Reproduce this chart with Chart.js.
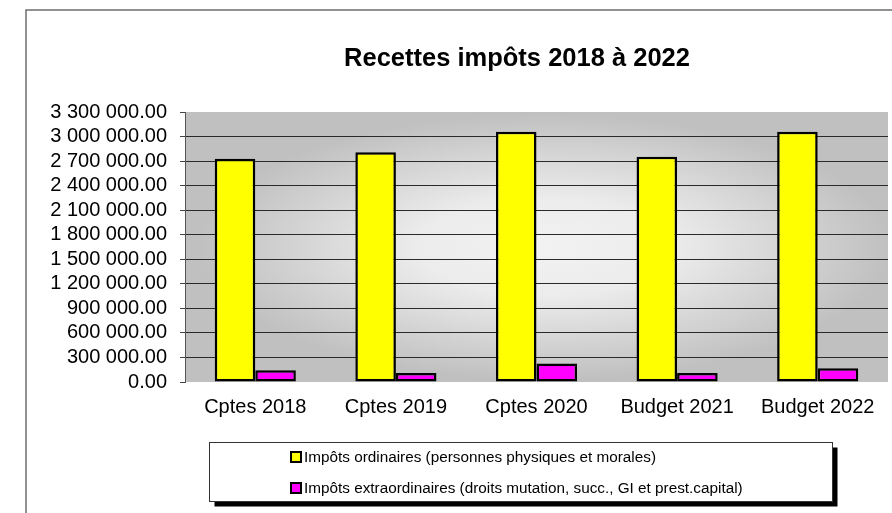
<!DOCTYPE html>
<html>
<head>
<meta charset="utf-8">
<title>Recettes impôts 2018 à 2022</title>
<script src="https://cdn.jsdelivr.net/npm/chart.js@4.4.1/dist/chart.umd.min.js"></script>
<style>
  html, body { margin: 0; padding: 0; background: #fff; }
  canvas { display: block; }
</style>
</head>
<body>
<canvas id="impots-chart" width="892" height="513"></canvas>
<script>
var chartTitle = "Recettes impôts 2018 à 2022";
var categories = ["Cptes 2018", "Cptes 2019", "Cptes 2020", "Budget 2021", "Budget 2022"];
var impotsOrdinaires = [2729000, 2808000, 3060000, 2754000, 3060000];
var impotsExtra = [143000, 110000, 225000, 110000, 168000];
var seriesNames = [
  "Impôts ordinaires (personnes physiques et morales)",
  "Impôts extraordinaires (droits mutation, succ., GI et prest.capital)"
];
var yMax = 3300000;
var yStep = 300000;

// 3300000 -> "3 300 000.00"
function formatValue(v) {
  var parts = v.toFixed(2).split(".");
  return parts[0].replace(/\B(?=(\d{3})+(?!\d))/g, " ") + "." + parts[1];
}

// cadre, fond du graphique, titre et légende
var decorPlugin = {
  id: "decor",
  beforeDraw: function (chart) {
    var ctx = chart.ctx;
    var a = chart.chartArea;
    ctx.save();
    // cadre extérieur
    ctx.strokeStyle = "#6e6e6e";
    ctx.lineWidth = 1.5;
    ctx.beginPath();
    ctx.moveTo(26, 513);
    ctx.lineTo(26, 10);
    ctx.lineTo(892, 10);
    ctx.stroke();

    // fond gris dégradé
    var cx = (a.left + a.right) / 2 + 8;
    var cy = (a.top + a.bottom) / 2;
    var rx = (a.right - a.left) / 2;
    var ry = (a.bottom - a.top) / 2;
    ctx.beginPath();
    ctx.rect(a.left, a.top, a.right - a.left, a.bottom - a.top);
    ctx.clip();
    ctx.translate(cx, cy);
    ctx.scale(rx / ry, 1);
    var g = ctx.createRadialGradient(0, 0, 0, 0, 0, ry * 1.2);
    g.addColorStop(0, "#f2f2f2");
    g.addColorStop(0.3, "#ececec");
    g.addColorStop(0.82, "#c0c0c0");
    g.addColorStop(1, "#c0c0c0");
    ctx.fillStyle = g;
    ctx.fillRect(-ry * 2, -ry * 2, ry * 4, ry * 4);
    ctx.restore();
  },
  afterDraw: function (chart) {
    var ctx = chart.ctx;
    ctx.save();
    // titre
    ctx.fillStyle = "#000";
    ctx.font = "bold 25.5px Arial, 'Liberation Sans', sans-serif";
    ctx.textAlign = "center";
    ctx.textBaseline = "middle";
    ctx.fillText(chartTitle, 517, 59);

    // légende
    var bx = 209.5, by = 442.5, bw = 623, bh = 59;
    ctx.fillStyle = "#000";
    ctx.fillRect(bx + 5, by + 5, bw, bh);
    ctx.fillStyle = "#fff";
    ctx.fillRect(bx, by, bw, bh);
    ctx.strokeStyle = "#333";
    ctx.lineWidth = 1;
    ctx.strokeRect(bx, by, bw, bh);

    ctx.font = "15.3px Arial, 'Liberation Sans', sans-serif";
    ctx.textAlign = "left";
    chart.data.datasets.forEach(function (ds, i) {
      var y = 457 + i * 31;
      ctx.fillStyle = ds.backgroundColor;
      ctx.fillRect(291, y - 5, 10, 10);
      ctx.strokeStyle = "#000";
      ctx.lineWidth = 2;
      ctx.strokeRect(291, y - 5, 10, 10);
      ctx.fillStyle = "#000";
      ctx.fillText(ds.label, 304, y + 1);
    });
    ctx.restore();
  }
};

var chart = new Chart(document.getElementById("impots-chart").getContext("2d"), {
  type: "bar",
  data: {
    labels: categories,
    datasets: [
      {
        label: seriesNames[0],
        data: impotsOrdinaires,
        backgroundColor: "#ffff00",
        borderColor: "#000",
        borderWidth: 2.5,
        borderSkipped: false
      },
      {
        label: seriesNames[1],
        data: impotsExtra,
        backgroundColor: "#ff00ff",
        borderColor: "#000",
        borderWidth: 2.5,
        borderSkipped: false
      }
    ]
  },
  options: {
    responsive: false,
    animation: false,
    devicePixelRatio: 1,
    layout: { padding: { top: 112, left: 0, right: 4, bottom: 0 } },
    datasets: {
      bar: { categoryPercentage: 0.577, barPercentage: 1 }
    },
    plugins: {
      legend: { display: false },
      title: { display: false },
      tooltip: { enabled: false }
    },
    scales: {
      x: {
        grid: { display: false },
        border: { display: false },
        ticks: {
          color: "#000",
          font: { family: "Arial, 'Liberation Sans', sans-serif", size: 20 },
          padding: 5,
          maxRotation: 0,
          autoSkip: false
        },
        afterFit: function (scale) { scale.height = 131; }
      },
      y: {
        min: 0,
        max: yMax,
        ticks: {
          stepSize: yStep,
          autoSkip: false,
          color: "#000",
          font: { family: "Arial, 'Liberation Sans', sans-serif", size: 20 },
          padding: 13,
          callback: function (v) { return formatValue(v); }
        },
        grid: {
          color: function (c) {
            if (c.tick && (c.tick.value === 0 || c.tick.value === yMax)) return "rgba(0,0,0,0)";
            return "#2a2a2a";
          },
          tickColor: "#444",
          tickLength: 5,
          lineWidth: 1
        },
        border: { display: true, color: "#555", width: 1 },
        afterFit: function (scale) { scale.width = 185; }
      }
    }
  },
  plugins: [decorPlugin]
});
</script>
</body>
</html>
